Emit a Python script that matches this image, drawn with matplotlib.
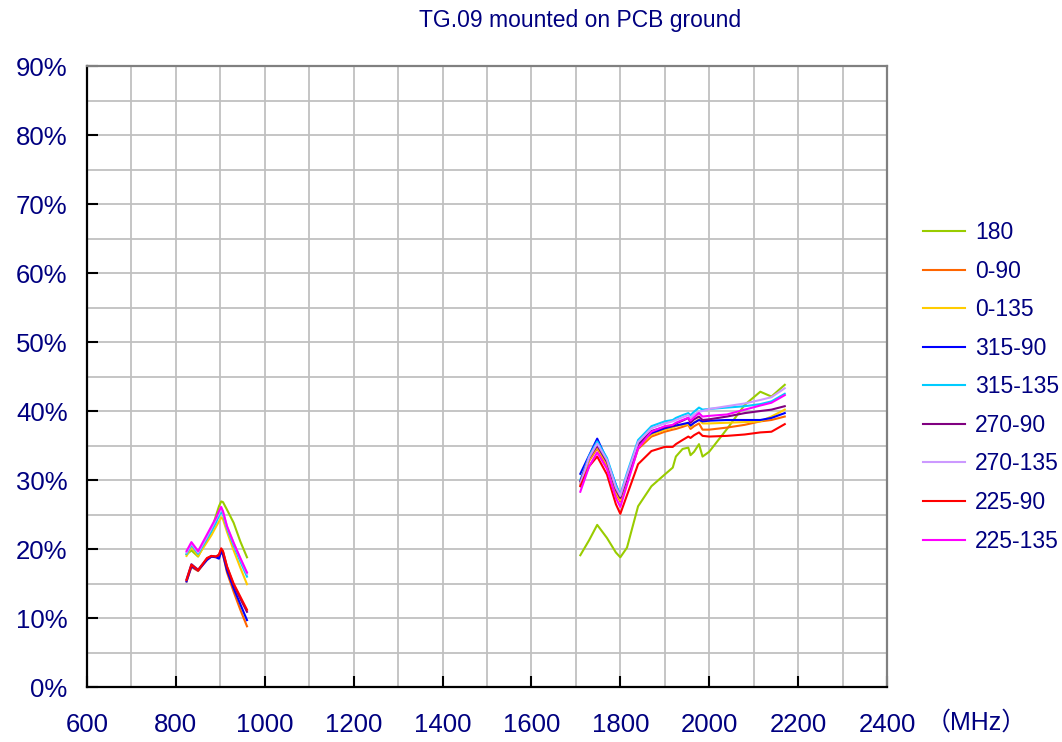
import matplotlib
import matplotlib.pyplot as plt
import numpy as np

matplotlib.use("Agg")

# frequency points (MHz) of the two measured bands
freq_low = [824, 835, 850, 870, 880, 890, 897, 902, 906, 915, 930, 945, 960]
freq_high = [1710, 1730, 1748, 1770, 1790, 1800, 1815, 1840, 1870, 1900,
             1918, 1925, 1940, 1953, 1958, 1966, 1977, 1985, 2000, 2040,
             2080, 2115, 2140, 2170]

labels = ["180", "0-90", "0-135", "315-90", "315-135",
          "270-90", "270-135", "225-90", "225-135"]
colors = ["#99cc00", "#ff6600", "#ffcc00", "#0000ff", "#00ccff",
          "#800080", "#cc99ff", "#ff0000", "#ff00ff"]

# efficiency in %
eff_low = {
    "180": [19.2, 19.8, 18.9, 21.4, 22.6, 24.8, 26.2, 26.9, 26.8, 25.7, 23.8, 21.1, 18.8],
    "0-90": [15.3, 17.4, 16.8, 18.5, 18.9, 18.9, 19.0, 19.8, 19.2, 16.6, 13.8, 11.2, 8.8],
    "0-135": [19.0, 20.3, 19.0, 21.0, 22.0, 23.2, 24.0, 24.6, 24.3, 22.5, 19.8, 17.3, 14.9],
    "315-90": [15.3, 17.5, 16.9, 18.4, 18.9, 18.8, 18.6, 19.6, 19.2, 16.9, 14.3, 12.0, 9.7],
    "315-135": [19.3, 20.6, 19.3, 21.5, 22.6, 23.8, 24.8, 25.4, 25.0, 23.0, 20.5, 18.2, 16.0],
    "270-90": [15.6, 17.8, 17.0, 18.6, 19.0, 18.9, 19.1, 20.0, 19.6, 17.4, 14.8, 12.8, 10.9],
    "270-135": [19.5, 20.8, 19.5, 21.8, 23.0, 24.3, 25.2, 25.8, 25.3, 23.3, 20.9, 18.6, 16.4],
    "225-90": [15.5, 17.7, 16.9, 18.7, 19.0, 18.9, 19.2, 20.1, 19.7, 17.5, 15.0, 13.1, 11.2],
    "225-135": [19.7, 21.0, 19.7, 22.1, 23.3, 24.5, 25.5, 26.1, 25.5, 23.3, 20.9, 18.7, 16.6],
}
eff_high = {
    "180": [19.1, 21.3, 23.5, 21.6, 19.5, 18.8, 20.2, 26.2, 29.1, 30.8, 31.8, 33.4,
            34.5, 34.7, 33.6, 34.1, 35.2, 33.4, 34.1, 37.4, 40.9, 42.8, 42.1, 43.8],
    "0-90": [29.3, 32.8, 34.6, 32.0, 28.0, 26.9, 29.8, 34.5, 36.3, 37.0, 37.3, 37.4,
             37.7, 38.0, 37.4, 37.8, 38.2, 37.3, 37.3, 37.6, 38.0, 38.5, 38.7, 39.2],
    "0-135": [29.5, 33.0, 34.8, 32.3, 28.3, 27.1, 30.0, 34.8, 36.6, 37.3, 37.6, 37.8,
              38.0, 38.1, 37.7, 38.3, 38.8, 38.2, 38.2, 38.3, 38.4, 38.5, 39.2, 40.2],
    "315-90": [30.9, 33.6, 36.0, 32.9, 29.3, 27.6, 30.5, 35.2, 36.8, 37.5, 37.8, 37.9,
               38.1, 38.3, 37.9, 38.3, 38.7, 38.5, 38.6, 38.7, 38.7, 38.7, 39.0, 39.7],
    "315-135": [30.0, 33.5, 35.6, 33.2, 29.3, 27.9, 31.0, 35.8, 37.8, 38.5, 38.7, 39.0,
                39.4, 39.7, 39.4, 39.9, 40.5, 40.2, 40.3, 40.5, 40.7, 41.0, 41.4, 42.5],
    "270-90": [29.8, 33.2, 35.0, 32.6, 28.6, 27.4, 30.3, 35.2, 37.1, 37.7, 37.9, 38.2,
               38.6, 39.0, 38.3, 38.8, 39.2, 38.7, 38.8, 39.2, 39.7, 40.0, 40.2, 40.7],
    "270-135": [29.5, 33.3, 35.3, 32.9, 28.9, 27.7, 30.7, 35.5, 37.5, 38.2, 38.5, 38.7,
                39.1, 39.4, 39.0, 39.5, 39.9, 40.0, 40.3, 40.7, 41.1, 41.6, 42.0, 43.3],
    "225-90": [29.1, 32.0, 33.4, 30.8, 26.5, 25.1, 27.8, 32.3, 34.2, 34.8, 34.8, 35.2,
               35.8, 36.3, 36.1, 36.5, 36.9, 36.4, 36.3, 36.4, 36.6, 36.9, 37.0, 38.1],
    "225-135": [28.3, 32.0, 34.0, 31.6, 27.4, 26.1, 29.3, 34.6, 37.0, 37.8, 38.0, 38.3,
                38.7, 39.0, 38.6, 39.1, 39.7, 39.2, 39.3, 39.5, 40.2, 40.8, 41.2, 42.3],
}

NAVY = "#000080"


def main():
    plt.rcParams["font.family"] = ["Liberation Sans", "DejaVu Sans"]
    fig = plt.figure(figsize=(10.62, 7.42), dpi=100)
    ax = fig.add_axes([0.0819, 0.0741, 0.7533, 0.8369])

    freq = freq_low + [np.nan] + freq_high
    for name, col in zip(labels, colors):
        vals = eff_low[name] + [np.nan] + eff_high[name]
        ax.plot(freq, vals, color=col, lw=1.5, label=name)

    ax.set_xlim(600, 2400)
    ax.set_ylim(0, 90)
    ax.set_xticks(np.arange(600, 2401, 200))
    ax.set_xticks(np.arange(600, 2401, 100), minor=True)
    ax.set_yticks(np.arange(0, 91, 10))
    ax.set_yticks(np.arange(0, 91, 5), minor=True)
    ax.set_yticklabels([f"{v}%" for v in range(0, 91, 10)])
    ax.grid(True, which="both", color="#c0c0c0", lw=1.3)
    ax.set_axisbelow(True)
    ax.tick_params(which="major", direction="in", length=8, width=1.5,
                   labelsize=18.5, labelcolor=NAVY)
    ax.tick_params(which="minor", length=0)
    ax.tick_params(axis="x", pad=19)
    ax.tick_params(axis="y", pad=14)
    for s in ["left", "bottom"]:
        ax.spines[s].set_color("black")
        ax.spines[s].set_linewidth(1.6)
    for s in ["top", "right"]:
        ax.spines[s].set_color("#808080")
        ax.spines[s].set_linewidth(1.6)

    fig.text(0.546, 0.972, "TG.09 mounted on PCB ground", ha="center",
             va="center", fontsize=16.5, color=NAVY)
    fig.text(0.872, 0.026, "（MHz）", ha="left", va="center", fontsize=18,
             color=NAVY, family=["Liberation Sans", "Noto Sans CJK SC"])

    leg = ax.legend(loc="upper left", bbox_to_anchor=(0.85, 0.73),
                    bbox_transform=fig.transFigure, frameon=False,
                    fontsize=16.5, handlelength=1.8, labelspacing=0.68,
                    handletextpad=0.45)
    for t in leg.get_texts():
        t.set_color(NAVY)

    fig.savefig("out.png", dpi=100)
    return 0


if __name__ == "__main__":
    main()
